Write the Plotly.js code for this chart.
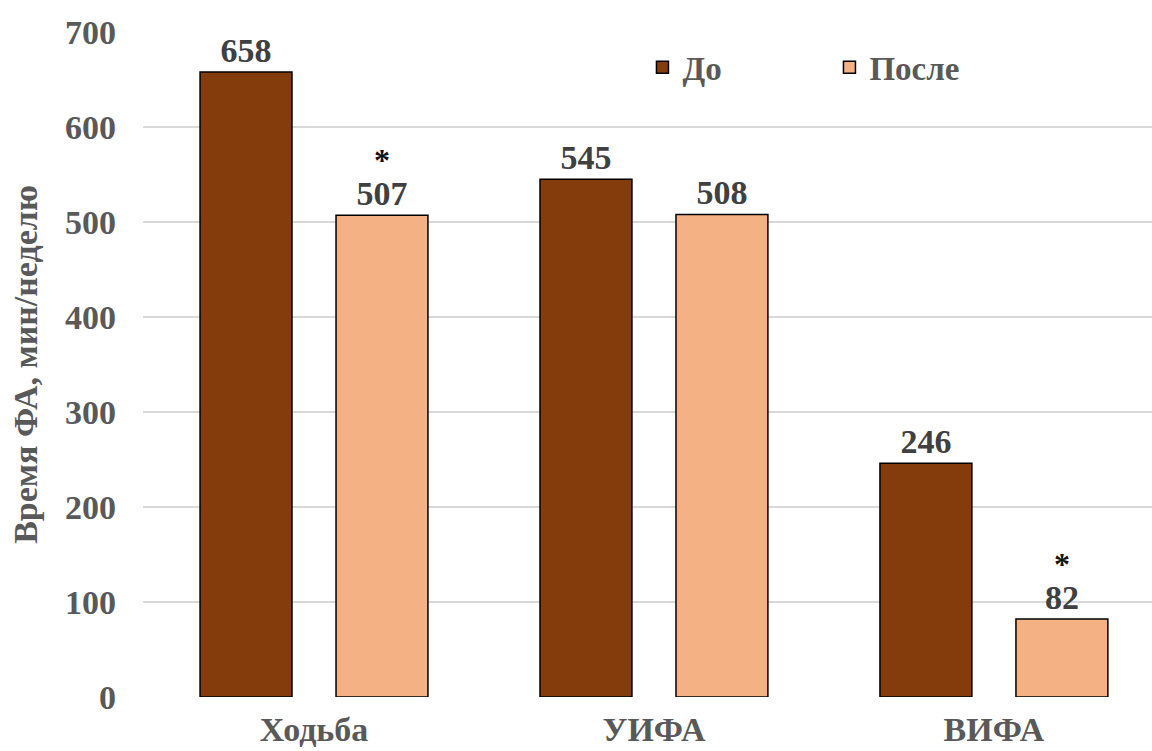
<!DOCTYPE html>
<html>
<head>
<meta charset="utf-8">
<script src="https://cdn.plot.ly/plotly-3.0.1.min.js"></script>
<style>
  html, body { margin: 0; padding: 0; background: #ffffff; overflow: hidden; }
  #chart { width: 1152px; height: 751px; }
</style>
</head>
<body>
<div id="chart"></div>
<script>
// Physical activity time per week, before and after
const categories = ['Ходьба', 'УИФА', 'ВИФА'];
const seriesNames = ['До', 'После'];
const valuesBefore = [658, 545, 246];
const valuesAfter = [507, 508, 82];
// significant change marked with an asterisk
const sigAfter = [true, false, true];
const yTicks = [0, 100, 200, 300, 400, 500, 600, 700];
const yTitle = 'Время ФА, мин/неделю';

const serif = 'Liberation Serif, Times New Roman, serif';
const labelColor = '#404040';
const axisColor = '#595959';
const bargap = 0.2;

const common = {
  type: 'bar',
  x: categories,
  textposition: 'outside',
  cliponaxis: false,
  constraintext: 'none',
  textfont: { family: serif, size: 34, color: labelColor, weight: 'bold' },
  hoverinfo: 'none'
};

const traces = [
  Object.assign({}, common, {
    name: seriesNames[0],
    y: valuesBefore,
    text: valuesBefore.map(String),
    marker: { color: '#843C0C', line: { color: '#000000', width: 1.5 } }
  }),
  Object.assign({}, common, {
    name: seriesNames[1],
    y: valuesAfter,
    text: valuesAfter.map(String),
    marker: { color: '#F4B183', line: { color: '#000000', width: 1.5 } }
  })
];

// asterisks above the second bar of each group (bar centre sits a quarter of the group width right of the category)
const starOffset = (1 - bargap) / 4;
const annotations = [];
sigAfter.forEach((s, i) => {
  if (!s) return;
  annotations.push({
    xref: 'x', yref: 'y',
    x: i + starOffset, y: valuesAfter[i],
    text: '*',
    showarrow: false,
    yanchor: 'middle',
    yshift: 55,
    font: { family: serif, size: 32, color: '#111111', weight: 'bold' }
  });
});

const layout = {
  width: 1152,
  height: 751,
  margin: { l: 143, r: 0, t: 32, b: 54 },
  paper_bgcolor: '#ffffff',
  plot_bgcolor: '#ffffff',
  barmode: 'group',
  bargap: bargap,
  bargroupgap: 0.324,
  font: { family: serif, color: axisColor, weight: 'bold' },
  showlegend: true,
  legend: {
    orientation: 'h',
    x: 0.495, xanchor: 'left',
    y: 0.947, yanchor: 'middle',
    font: { family: serif, size: 33, color: axisColor, weight: 'bold' },
    entrywidth: 142,
    entrywidthmode: 'pixels',
    itemclick: false,
    bgcolor: 'rgba(0,0,0,0)'
  },
  annotations: annotations,
  xaxis: {
    type: 'category',
    range: [-0.503, 2.465],
    showgrid: false,
    zeroline: false,
    showline: false,
    ticks: '',
    ticklabelstandoff: 9,
    tickfont: { family: serif, size: 34, color: axisColor, weight: 'bold' }
  },
  yaxis: {
    range: [0, 700],
    tickvals: yTicks,
    ticktext: yTicks.map(String),
    showgrid: true,
    gridcolor: '#d9d9d9',
    gridwidth: 1.5,
    zeroline: false,
    showline: false,
    ticks: '',
    ticklabelstandoff: 26,
    tickfont: { family: serif, size: 34, color: axisColor, weight: 'bold' },
    title: {
      text: yTitle,
      standoff: 17,
      font: { family: serif, size: 34, color: axisColor, weight: 'bold' }
    }
  }
};

Plotly.newPlot('chart', traces, layout, { staticPlot: true, displayModeBar: false });
</script>
</body>
</html>
